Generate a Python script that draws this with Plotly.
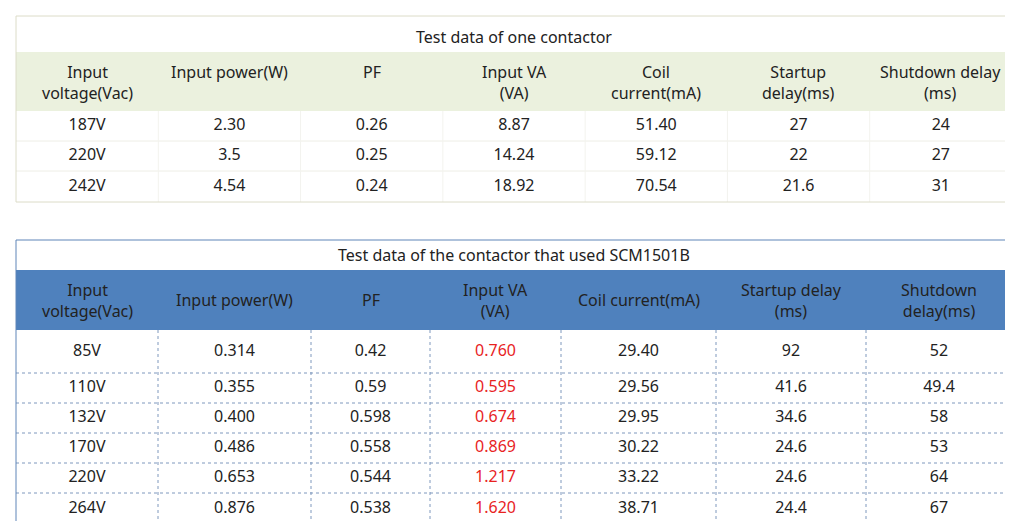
import plotly.graph_objects as go

W, H = 1013, 521
top_title = "Test data of one contactor"
top_headers = ["Input<br>voltage(Vac)", "Input power(W)<br> ", "PF<br> ", "Input VA<br>(VA)",
               "Coil<br>current(mA)", "Startup<br>delay(ms)", "Shutdown delay<br>(ms)"]
top_voltage = ["187V", "220V", "242V"]
top_power = ["2.30", "3.5", "4.54"]
top_pf = ["0.26", "0.25", "0.24"]
top_va = ["8.87", "14.24", "18.92"]
top_coil = ["51.40", "59.12", "70.54"]
top_startup = ["27", "22", "21.6"]
top_shutdown = ["24", "27", "31"]

bot_title = "Test data of the contactor that used SCM1501B"
bot_headers = ["Input<br>voltage(Vac)", "Input power(W)", "PF", "Input VA<br>(VA)",
               "Coil current(mA)", "Startup delay<br>(ms)", "Shutdown<br>delay(ms)"]
bot_voltage = ["85V", "110V", "132V", "170V", "220V", "264V"]
bot_power = ["0.314", "0.355", "0.400", "0.486", "0.653", "0.876"]
bot_pf = ["0.42", "0.59", "0.598", "0.558", "0.544", "0.538"]
bot_va = ["0.760", "0.595", "0.674", "0.869", "1.217", "1.620"]
bot_coil = ["29.40", "29.56", "29.95", "30.22", "33.22", "38.71"]
bot_startup = ["92", "41.6", "34.6", "24.6", "24.6", "24.4"]
bot_shutdown = ["52", "49.4", "58", "53", "64", "67"]

FONT = "Noto Sans"
FS = 16
TXT = "#222222"
RED = "#e8231f"

# layout geometry (pixels)
top_cols = [8 + i * (996 / 7) for i in range(8)]
top_rows = [103, 133, 163, 194]
bot_cols = [8, 150, 303, 422, 553, 708, 858, 1004]
bot_rows = [322, 365, 395, 425, 455, 485, 516]

fig = go.Figure()
shapes = []
def rect(x0, x1, y0, y1, fill=None, line=None, dash=None, width=1):
    shapes.append(dict(type="rect", xref="x", yref="y", x0=x0, x1=x1, y0=y0, y1=y1,
                       fillcolor=fill or "rgba(0,0,0,0)", layer="below",
                       line=dict(color=line or "rgba(0,0,0,0)", width=width, dash=dash)))
def line(x0, x1, y0, y1, color, dash=None):
    shapes.append(dict(type="line", xref="x", yref="y", x0=x0, x1=x1, y0=y0, y1=y1,
                       layer="below", line=dict(color=color, width=1, dash=dash)))

# top table
rect(8, 1004, 44, 103, fill="#ebf1de")
for y in top_rows[1:-1]:
    line(8, 1004, y, y, "#eeeee6")
for x in top_cols[1:-1]:
    line(x, x, 103, 194, "#f3f3ee")
rect(8, 1004, 8, 194, line="#dcdcc8")

# bottom table
rect(8, 1004, 262, 322, fill="#4f81bd")
for y in bot_rows[1:-1]:
    line(8, 1004, y, y, "#7f98bd", dash="dot")
for x in bot_cols[1:-1]:
    line(x, x, 322, 516, "#7f98bd", dash="dot")
rect(8, 1004, 232, 516, line="#5f85b8")

ann = []
def text(x, y, s):
    ann.append(dict(x=x, y=y, xref="x", yref="y", text=s, showarrow=False, align="center",
                    font=dict(family=FONT, size=FS, color=TXT)))
text(506, 29, top_title)
text(506, 247, bot_title)
for i, h in enumerate(top_headers):
    text((top_cols[i] + top_cols[i + 1]) / 2, 74, h)
for i, h in enumerate(bot_headers):
    text((bot_cols[i] + bot_cols[i + 1]) / 2, 292, h)

top_data = [top_voltage, top_power, top_pf, top_va, top_coil, top_startup, top_shutdown]
top_centers = [(top_rows[i] + top_rows[i + 1]) / 2 for i in range(3)]
for i, col in enumerate(top_data):
    fig.add_trace(go.Scatter(x=[(top_cols[i] + top_cols[i + 1]) / 2] * len(col), y=top_centers,
                             text=col, mode="text", textposition="middle center",
                             textfont=dict(family=FONT, size=FS, color=TXT), hoverinfo="skip"))
bot_data = [bot_voltage, bot_power, bot_pf, bot_va, bot_coil, bot_startup, bot_shutdown]
bot_centers = [(bot_rows[i] + bot_rows[i + 1]) / 2 for i in range(6)]
for i, col in enumerate(bot_data):
    fig.add_trace(go.Scatter(x=[(bot_cols[i] + bot_cols[i + 1]) / 2] * len(col), y=bot_centers,
                             text=col, mode="text", textposition="middle center",
                             textfont=dict(family=FONT, size=FS, color=RED if i == 3 else TXT),
                             hoverinfo="skip"))

fig.update_layout(width=W, height=H, margin=dict(l=0, r=0, t=0, b=0), paper_bgcolor="white",
                  plot_bgcolor="white", showlegend=False, shapes=shapes, annotations=ann,
                  xaxis=dict(range=[0, W], visible=False, fixedrange=True),
                  yaxis=dict(range=[H, 0], visible=False, fixedrange=True))
fig.write_html("out.html")
